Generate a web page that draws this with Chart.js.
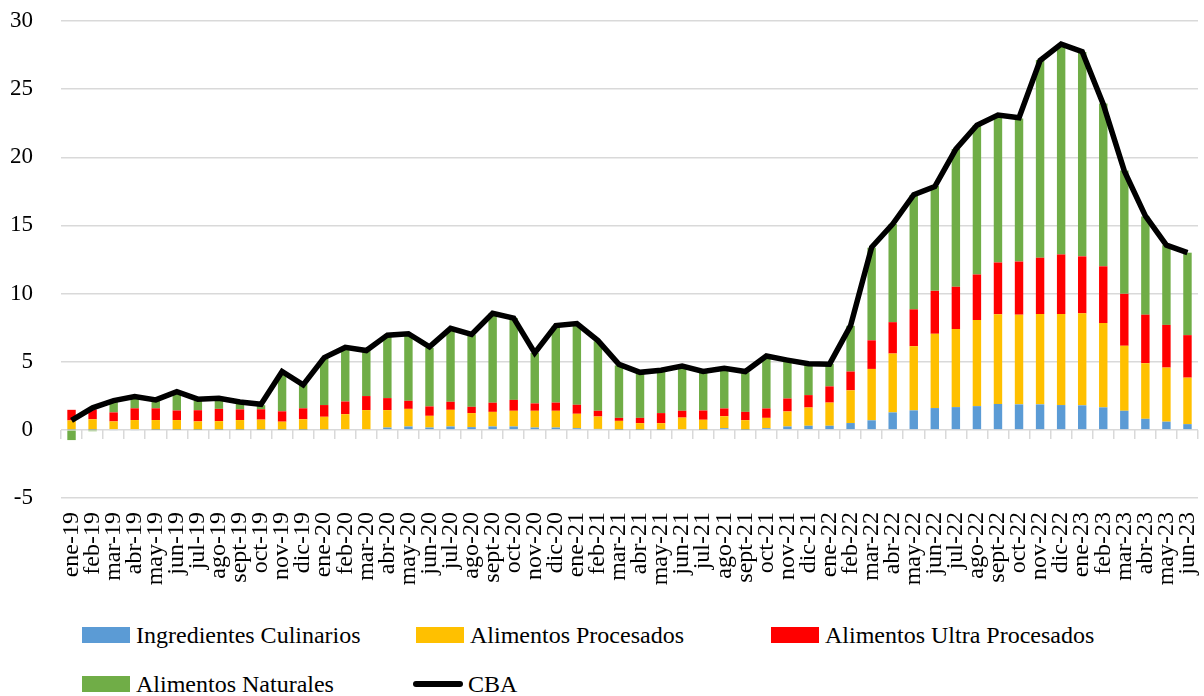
<!DOCTYPE html>
<html>
<head>
<meta charset="utf-8">
<script src="https://cdn.jsdelivr.net/npm/chart.js@4.4.1/dist/chart.umd.min.js"></script>
<style>
    body { margin: 0; background: #fff; }
    #wrap { position: relative; width: 1204px; height: 696px; }
    #legend .item { position: absolute; display: flex; align-items: center; height: 30px;
        font-family: "Liberation Serif", serif; font-size: 24px; color: #000; white-space: nowrap; }
    #legend .box { width: 48px; height: 16px; margin-right: 6px; }
    #legend .ln { width: 50px; height: 6px; border-radius: 3px; margin-right: 5px; }
</style>
</head>
<body>
<div id="wrap">
    <canvas id="chart" width="1204" height="600"></canvas>
    <div id="legend"></div>
</div>
<script>
    "use strict";

    var meses = ["ene-19", "feb-19", "mar-19", "abr-19", "may-19", "jun-19", "jul-19", "ago-19", "sept-19", "oct-19", "nov-19", "dic-19",
        "ene-20", "feb-20", "mar-20", "abr-20", "may-20", "jun-20", "jul-20", "ago-20", "sept-20", "oct-20", "nov-20", "dic-20",
        "ene-21", "feb-21", "mar-21", "abr-21", "may-21", "jun-21", "jul-21", "ago-21", "sept-21", "oct-21", "nov-21", "dic-21",
        "ene-22", "feb-22", "mar-22", "abr-22", "may-22", "jun-22", "jul-22", "ago-22", "sept-22", "oct-22", "nov-22", "dic-22",
        "ene-23", "feb-23", "mar-23", "abr-23", "may-23", "jun-23"];

    var ingredientes = [0.03, 0.02, -0.05, -0.05, 0.02, 0.02, 0.02, 0.02, 0.02, 0.02, 0.02, 0.02,
        0.03, 0.05, 0.05, 0.17, 0.25, 0.17, 0.25, 0.20, 0.25, 0.25, 0.17, 0.17,
        0.12, 0.07, 0.02, 0.02, 0.02, 0.05, 0.02, 0.12, 0.02, 0.12, 0.25, 0.30,
        0.30, 0.50, 0.70, 1.28, 1.43, 1.60, 1.67, 1.74, 1.90, 1.87, 1.87, 1.82,
        1.80, 1.65, 1.40, 0.81, 0.60, 0.42];

    var procesados = [0.66, 0.76, 0.62, 0.72, 0.70, 0.70, 0.60, 0.62, 0.70, 0.73, 0.58, 0.76,
        0.93, 1.10, 1.40, 1.28, 1.29, 0.86, 1.22, 1.03, 1.07, 1.15, 1.23, 1.23,
        1.06, 0.91, 0.64, 0.47, 0.47, 0.85, 0.72, 0.88, 0.69, 0.76, 1.10, 1.34,
        1.70, 2.40, 3.77, 4.32, 4.71, 5.45, 5.73, 6.32, 6.58, 6.58, 6.63, 6.68,
        6.75, 6.19, 4.77, 4.08, 3.97, 3.41];

    var ultraProcesados = [0.78, 0.72, 0.66, 0.86, 0.86, 0.70, 0.82, 0.90, 0.78, 0.76, 0.76, 0.80,
        0.86, 0.93, 1.03, 0.88, 0.59, 0.69, 0.59, 0.46, 0.67, 0.80, 0.54, 0.60,
        0.66, 0.42, 0.22, 0.39, 0.74, 0.50, 0.68, 0.57, 0.61, 0.69, 0.95, 0.91,
        1.19, 1.38, 2.10, 2.30, 2.70, 3.15, 3.10, 3.34, 3.80, 3.90, 4.13, 4.37,
        4.18, 4.16, 3.81, 3.56, 3.13, 3.12];

    var naturales = [-0.75, -0.10, 0.80, 0.85, 0.55, 1.30, 0.70, 0.75, 0.50, 0.30, 2.75, 1.80,
        3.45, 3.90, 3.30, 4.50, 4.85, 4.30, 5.35, 5.30, 6.55, 6.00, 3.70, 5.60,
        5.90, 5.10, 3.85, 3.30, 3.10, 3.20, 2.80, 2.90, 2.90, 3.80, 2.80, 2.25,
        1.65, 3.35, 6.80, 7.20, 8.40, 7.70, 10.10, 10.95, 10.80, 10.50, 14.50, 15.45,
        15.00, 11.95, 9.05, 7.20, 5.85, 6.05];

    var cba = [0.70, 1.62, 2.15, 2.45, 2.20, 2.80, 2.25, 2.32, 2.05, 1.88, 4.28, 3.30,
        5.30, 6.05, 5.82, 6.95, 7.05, 6.10, 7.45, 7.00, 8.55, 8.20, 5.65, 7.65,
        7.80, 6.55, 4.80, 4.22, 4.38, 4.68, 4.28, 4.52, 4.28, 5.42, 5.12, 4.85,
        4.82, 7.65, 13.40, 15.10, 17.25, 17.85, 20.60, 22.35, 23.10, 22.90, 27.10, 28.30,
        27.75, 23.90, 19.00, 15.70, 13.55, 13.00];

    var yTicks = [-5, 0, 5, 10, 15, 20, 25, 30];

    var serif = "'Liberation Serif', serif";
    var gridGray = "#d9d9d9";

    function barSet(label, data, color) {
        return {
            type: "bar",
            label: label,
            data: data,
            backgroundColor: color,
            stack: "grupos",
            order: 1,
            barPercentage: 0.5,
            categoryPercentage: 0.8
        };
    }

    // keep the plot area where the reference has it
    function noSidePadding(axis) {
        axis.paddingLeft = 0;
        axis.paddingRight = 0;
    }

    var ctx = document.getElementById("chart").getContext("2d");
    var chart = new Chart(ctx, {
        data: {
            labels: meses,
            datasets: [
                barSet("Ingredientes Culinarios", ingredientes, "#5b9bd5"),
                barSet("Alimentos Procesados", procesados, "#ffc000"),
                barSet("Alimentos Ultra Procesados", ultraProcesados, "#ff0000"),
                barSet("Alimentos Naturales", naturales, "#70ad47"),
                {
                    type: "line",
                    label: "CBA",
                    data: cba,
                    borderColor: "#000",
                    backgroundColor: "#000",
                    borderWidth: 5.5,
                    pointRadius: 0,
                    tension: 0,
                    stack: "cba",
                    order: 0
                }
            ]
        },
        options: {
            responsive: false,
            animation: false,
            layout: { padding: { top: 21, right: 6, left: 0, bottom: 0 } },
            plugins: {
                legend: { display: false },
                tooltip: { enabled: false }
            },
            scales: {
                x: {
                    stacked: true,
                    grid: { display: false, drawTicks: false },
                    border: { display: false },
                    afterFit: function (axis) {
                        noSidePadding(axis);
                        axis.height = 102;
                    },
                    ticks: {
                        autoSkip: false,
                        minRotation: 90,
                        maxRotation: 90,
                        padding: 14,
                        color: "#000",
                        font: { family: serif, size: 24 }
                    }
                },
                x2: {
                    type: "category",
                    position: { y: 0 },
                    offset: true,
                    afterFit: noSidePadding,
                    grid: { offset: true, drawOnChartArea: false, drawTicks: true, tickLength: 9, color: gridGray, lineWidth: 1.5 },
                    border: { display: false },
                    ticks: { display: false }
                },
                y: {
                    stacked: true,
                    min: -5,
                    max: 30,
                    afterBuildTicks: function (axis) {
                        axis.ticks = yTicks.map(function (v) { return { value: v }; });
                    },
                    afterFit: function (axis) {
                        axis.width = 61;
                        axis.paddingTop = 0;
                        axis.paddingBottom = 0;
                    },
                    grid: { color: gridGray, lineWidth: 1.5, drawTicks: false },
                    border: { display: false },
                    ticks: {
                        padding: 28,
                        color: "#000",
                        font: { family: serif, size: 23 }
                    }
                }
            }
        }
    });

    // Legend in columns, built from the chart datasets
    var legendPos = [
        { left: 82, top: 620 },
        { left: 416, top: 620 },
        { left: 771, top: 620 },
        { left: 82, top: 669 },
        { left: 413, top: 669 }
    ];
    var legend = document.getElementById("legend");
    chart.data.datasets.forEach(function (ds, i) {
        var item = document.createElement("div");
        item.className = "item";
        item.style.left = legendPos[i].left + "px";
        item.style.top = legendPos[i].top + "px";
        var mark = document.createElement("span");
        mark.className = ds.type === "line" ? "ln" : "box";
        mark.style.background = ds.type === "line" ? ds.borderColor : ds.backgroundColor;
        var txt = document.createElement("span");
        txt.textContent = ds.label;
        item.appendChild(mark);
        item.appendChild(txt);
        legend.appendChild(item);
    });
</script>
</body>
</html>
